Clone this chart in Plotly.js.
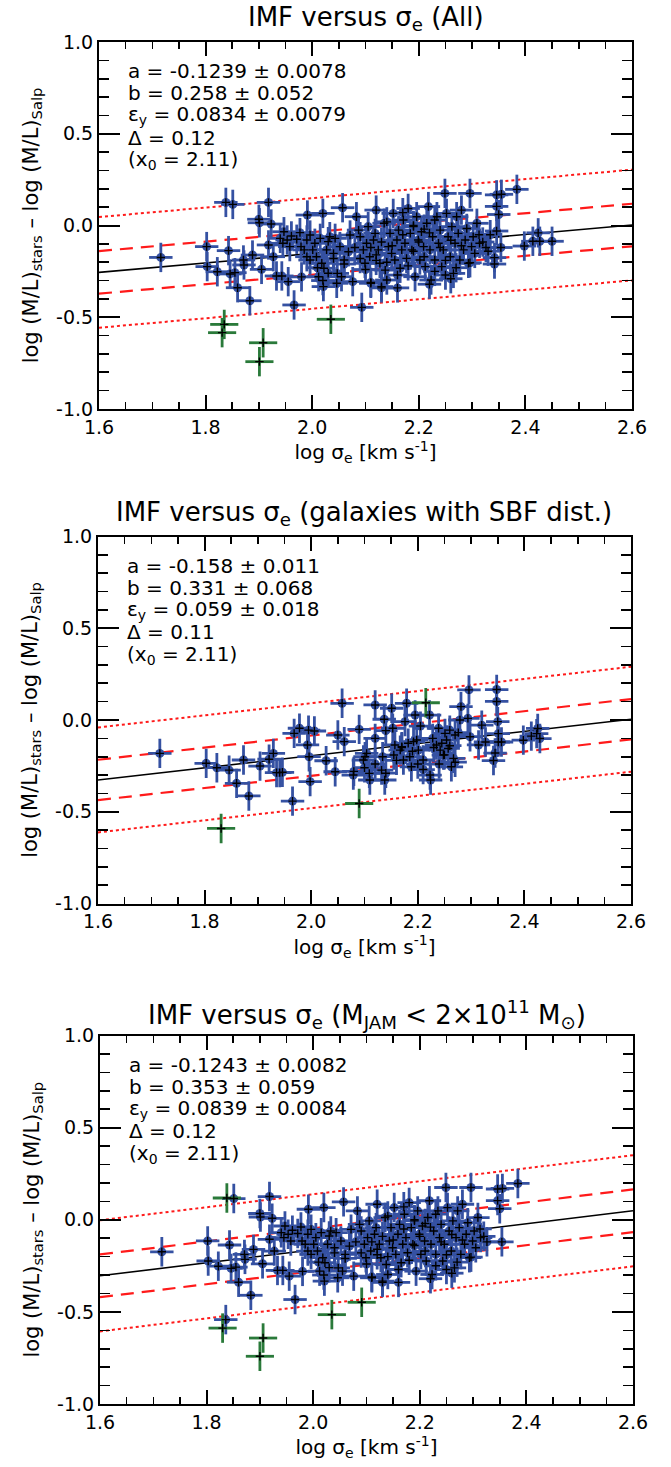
<!DOCTYPE html>
<html><head><meta charset="utf-8">
<script src="https://cdn.plot.ly/plotly-3.0.1.min.js"></script>
<style>html,body{margin:0;padding:0;background:#fff}</style>
</head><body><div id="chart" style="width:671px;height:1467px"></div>
<script>
// ---------- data ----------
// Panel 1 (All): blue points used in fit
const p1x = [1.716,1.802,1.803,1.822,1.838,1.851,1.843,1.846,1.855,1.860,
1.871,1.872,1.883,1.888,1.900,1.901,1.905,1.918,1.923,1.918,
1.927,1.933,1.943,1.947,1.955,1.958,1.966,1.977,1.991,1.996,
2.012,2.020,2.021,2.033,2.046,2.057,2.093,
1.940,1.945,1.953,1.961,1.971,1.979,1.985,1.990,1.996,2.001,
2.005,2.008,2.015,2.018,2.022,2.027,2.030,2.040,2.043,2.047,
2.052,2.055,2.060,2.068,2.071,2.076,2.083,2.087,2.090,2.096,
2.099,2.102,2.105,2.108,2.110,2.115,2.118,2.120,2.124,2.127,
2.130,2.135,2.137,2.140,2.143,2.146,2.149,2.152,2.155,2.159,
2.162,2.165,2.168,2.171,2.174,2.177,2.180,2.184,2.187,2.190,
2.193,2.196,2.199,2.202,2.205,2.209,2.212,2.215,2.218,2.221,
2.223,2.226,2.230,2.234,2.237,2.240,2.243,2.246,2.249,2.252,
2.255,2.259,2.262,2.265,2.268,2.271,2.274,2.277,2.280,2.284,
2.287,2.290,2.293,2.296,2.299,2.302,2.305,2.309,2.314,
2.11,2.12,2.13,2.14,2.15,2.16,2.17,2.18,2.19,2.20,
2.21,2.22,2.23,2.24,2.25,2.26,2.27,2.28,2.25,2.26,
2.22,2.19,2.17,2.14,2.12,2.10,2.09,2.08,2.06,2.04,
2.03,2.02,2.01,1.99,1.98,2.16,2.13,2.11,2.21,2.23,
2.346,2.355,2.384,2.346,2.350,2.346,2.334,2.354,2.342,2.342,
2.398,2.414,2.424,2.427,2.450,2.326,2.313,2.296,2.320,2.330];
const p1y = [-0.174,-0.115,-0.224,-0.252,0.126,0.115,-0.137,-0.264,-0.257,-0.339,
-0.188,-0.215,-0.410,-0.161,0.034,0.015,-0.239,0.126,0.008,-0.106,
-0.170,-0.275,-0.275,-0.034,-0.306,-0.115,-0.433,-0.039,0.057,-0.188,
-0.279,0.066,-0.333,-0.061,-0.315,0.097,-0.446,
-0.070,-0.097,-0.079,-0.057,-0.075,-0.115,-0.133,-0.079,-0.052,-0.133,
-0.097,-0.170,-0.070,-0.206,-0.233,-0.133,-0.088,-0.152,-0.070,-0.261,
-0.115,-0.279,-0.188,-0.143,-0.052,-0.306,0.048,-0.025,-0.061,-0.133,
-0.206,-0.097,-0.006,-0.170,-0.315,-0.079,-0.043,0.084,-0.133,-0.206,
-0.333,0.012,-0.243,-0.297,-0.115,-0.043,-0.152,0.066,-0.188,-0.079,
-0.025,-0.233,-0.133,0.030,-0.097,-0.179,0.093,-0.043,-0.133,-0.006,
-0.279,0.048,-0.079,-0.188,-0.034,-0.115,-0.224,0.012,0.103,-0.133,
-0.297,-0.061,-0.188,0.048,-0.097,-0.025,-0.224,-0.133,0.175,0.066,
-0.061,-0.170,-0.006,-0.261,-0.097,0.048,-0.043,-0.188,0.084,-0.133,
-0.079,-0.016,-0.206,0.175,-0.115,-0.061,-0.152,0.012,-0.097,
-0.12,-0.16,-0.09,-0.20,-0.11,-0.27,-0.05,-0.22,-0.14,-0.09,
-0.17,-0.04,-0.25,-0.12,-0.19,-0.08,-0.23,-0.11,-0.27,-0.29,
-0.32,0.00,0.07,0.02,-0.19,-0.24,-0.18,-0.12,-0.21,-0.18,
-0.26,-0.30,-0.23,-0.17,-0.28,-0.34,-0.34,-0.31,-0.02,0.03,
0.167,0.170,0.197,0.104,0.060,-0.030,-0.050,-0.120,-0.175,-0.210,
-0.112,-0.086,-0.040,-0.086,-0.086,-0.120,-0.050,-0.203,-0.090,-0.140];
// Panel 1 outliers (green)
const g1x = [1.835,1.831,1.908,1.901,2.035];
const g1y = [-0.539,-0.584,-0.639,-0.742,-0.511];

// Panel 2 (galaxies with SBF distances)
const p2x = [1.716,1.803,1.823,1.846,1.860,1.873,1.883,1.904,1.921,1.929,
1.935,1.941,1.946,1.965,1.968,1.978,1.993,1.995,1.996,1.998,
2.006,2.028,2.045,2.050,2.058,2.062,2.079,2.090,2.098,2.101,
2.104,2.109,2.110,2.120,2.120,2.132,2.134,2.137,2.138,2.140,
2.151,2.153,2.155,2.157,2.167,2.170,2.173,2.176,2.179,2.182,
2.185,2.188,2.192,2.195,2.198,2.201,2.205,2.210,2.222,2.223,
2.224,2.228,2.235,2.239,2.242,2.245,2.248,2.251,2.254,2.257,
2.260,2.263,2.267,2.270,2.276,2.279,2.281,2.294,2.296,2.298,
2.314,2.320,2.327,2.348,2.348,2.350,2.351,2.351,2.357,2.345,
2.342,2.398,2.413,2.423,2.425,2.429,
2.16,2.19,2.21,2.24,2.25,2.26,2.27,2.12,2.14,2.08,2.10,2.23,2.20,2.17];
const p2y = [-0.182,-0.236,-0.260,-0.273,-0.345,-0.218,-0.414,-0.251,-0.214,-0.182,
-0.287,-0.287,-0.285,-0.442,-0.073,-0.045,-0.136,-0.055,-0.200,-0.336,
-0.060,-0.222,-0.282,-0.082,0.091,-0.118,-0.300,-0.051,-0.218,-0.200,
-0.182,-0.291,-0.327,0.082,-0.100,-0.273,-0.200,0.004,-0.327,-0.058,
0.064,-0.045,-0.191,-0.136,-0.164,-0.145,-0.218,-0.009,0.091,-0.127,
-0.200,-0.255,-0.118,0.027,-0.109,-0.164,-0.033,-0.218,0.027,-0.300,
-0.327,-0.100,-0.136,-0.045,-0.164,-0.127,-0.191,-0.073,-0.109,-0.155,
-0.055,-0.255,-0.209,-0.082,-0.069,0.000,0.073,0.009,0.164,-0.091,
-0.136,-0.028,-0.120,0.166,0.101,-0.009,-0.074,-0.120,-0.120,-0.180,
-0.221,-0.110,-0.088,-0.074,-0.046,-0.101,
-0.22,-0.17,-0.27,-0.24,-0.19,-0.14,-0.23,-0.24,-0.29,-0.28,-0.26,-0.15,-0.24,-0.15];
const g2x = [1.831,2.090,2.215];
const g2y = [-0.591,-0.455,0.094];

// Panel 3 (M_JAM < 2e11 Msun)
const p3x = [1.716,1.802,1.803,1.822,1.851,1.843,1.846,1.855,1.860,1.871,
1.872,1.883,1.888,1.900,1.901,1.905,1.918,1.923,1.918,1.927,
1.933,1.943,1.947,1.955,1.958,1.966,1.977,1.991,1.996,2.012,
2.020,2.021,2.033,2.046,2.057,1.836,
1.940,1.945,1.953,1.961,1.971,1.979,1.985,1.990,1.996,2.001,
2.005,2.008,2.015,2.018,2.022,2.027,2.030,2.040,2.043,2.047,
2.052,2.055,2.060,2.068,2.071,2.076,2.083,2.087,2.090,2.096,
2.099,2.102,2.105,2.108,2.110,2.115,2.118,2.120,2.124,2.127,
2.130,2.135,2.137,2.140,2.143,2.146,2.149,2.152,2.155,2.159,
2.162,2.165,2.168,2.171,2.174,2.177,2.180,2.184,2.187,2.190,
2.193,2.196,2.199,2.202,2.205,2.209,2.212,2.215,2.218,2.221,
2.223,2.226,2.230,2.234,2.237,2.240,2.243,2.246,2.249,2.252,
2.255,2.259,2.262,2.265,2.268,2.271,2.274,2.277,2.280,2.284,
2.287,2.290,2.293,2.296,2.299,2.302,2.305,2.309,2.314,
2.11,2.12,2.13,2.14,2.15,2.16,2.17,2.18,2.19,2.20,
2.21,2.22,2.23,2.24,2.25,2.26,2.27,2.28,2.25,2.26,
2.22,2.19,2.17,2.14,2.12,2.10,2.09,2.08,2.06,2.04,
2.03,2.02,2.01,1.99,1.98,2.16,2.13,2.11,2.21,2.23,
2.346,2.355,2.384,2.346,2.350,2.354,2.326,2.313,2.296,2.320];
const p3y = [-0.174,-0.115,-0.224,-0.252,0.115,-0.137,-0.264,-0.257,-0.339,-0.188,
-0.215,-0.410,-0.161,0.034,0.015,-0.239,0.126,0.008,-0.106,-0.170,
-0.275,-0.275,-0.034,-0.306,-0.115,-0.433,-0.039,0.057,-0.188,-0.279,
0.066,-0.333,-0.061,-0.315,0.097,-0.542,
-0.070,-0.097,-0.079,-0.057,-0.075,-0.115,-0.133,-0.079,-0.052,-0.133,
-0.097,-0.170,-0.070,-0.206,-0.233,-0.133,-0.088,-0.152,-0.070,-0.261,
-0.115,-0.279,-0.188,-0.143,-0.052,-0.306,0.048,-0.025,-0.061,-0.133,
-0.206,-0.097,-0.006,-0.170,-0.315,-0.079,-0.043,0.084,-0.133,-0.206,
-0.333,0.012,-0.243,-0.297,-0.115,-0.043,-0.152,0.066,-0.188,-0.079,
-0.025,-0.233,-0.133,0.030,-0.097,-0.179,0.093,-0.043,-0.133,-0.006,
-0.279,0.048,-0.079,-0.188,-0.034,-0.115,-0.224,0.012,0.103,-0.133,
-0.297,-0.061,-0.188,0.048,-0.097,-0.025,-0.224,-0.133,0.175,0.066,
-0.061,-0.170,-0.006,-0.261,-0.097,0.048,-0.043,-0.188,0.084,-0.133,
-0.079,-0.016,-0.206,0.175,-0.115,-0.061,-0.152,0.012,-0.097,
-0.12,-0.16,-0.09,-0.20,-0.11,-0.27,-0.05,-0.22,-0.14,-0.09,
-0.17,-0.04,-0.25,-0.12,-0.19,-0.08,-0.23,-0.11,-0.27,-0.29,
-0.32,0.00,0.07,0.02,-0.19,-0.24,-0.18,-0.12,-0.21,-0.18,
-0.26,-0.30,-0.23,-0.17,-0.28,-0.34,-0.34,-0.31,-0.02,0.03,
0.167,0.170,0.197,0.104,0.060,-0.120,-0.120,-0.050,-0.203,-0.090];
const g3x = [1.838,1.830,1.906,1.900,2.035,2.091];
const g3y = [0.118,-0.588,-0.642,-0.741,-0.515,-0.448];

// typical error bars (dex)
const errX = 0.022;
const errY = 0.08;

// fit parameters (printed) and rms used for the band lines
const fitA = [-0.1239, -0.158, -0.1243];
const fitB = [0.258, 0.331, 0.353];
const fitX0 = [2.11, 2.11, 2.11];
const bandRms = [0.116, 0.110, 0.116];
const clipFactor = 2.6;

const titles = [
  "IMF versus σ<sub>e</sub> (All)",
  "IMF versus σ<sub>e</sub> (galaxies with SBF dist.)",
  "IMF versus σ<sub>e</sub> (M<sub>JAM</sub> &lt; 2×10<sup>11</sup> M<sub>⊙</sub>)"
];
const fitText = [
  ["a = -0.1239 ± 0.0078","b = 0.258 ± 0.052","ε<sub>y</sub> = 0.0834 ± 0.0079","Δ = 0.12","(x<sub>0</sub> = 2.11)"],
  ["a = -0.158 ± 0.011","b = 0.331 ± 0.068","ε<sub>y</sub> = 0.059 ± 0.018","Δ = 0.11","(x<sub>0</sub> = 2.11)"],
  ["a = -0.1243 ± 0.0082","b = 0.353 ± 0.059","ε<sub>y</sub> = 0.0839 ± 0.0084","Δ = 0.12","(x<sub>0</sub> = 2.11)"]
];
const xTickVals = [1.6,1.8,2.0,2.2,2.4,2.6];
const xTickText = ["1.6","1.8","2.0","2.2","2.4","2.6"];
const yTickVals = [-1.0,-0.5,0.0,0.5,1.0];
const yTickText = ["-1.0","-0.5","0.0","0.5","1.0"];
const xTitle = "log σ<sub>e</sub> [km s<sup>-1</sup>]";
const yTitle = "log (M/L)<sub>stars</sub> – log (M/L)<sub>Salp</sub>";

// ---------- layout geometry (pixels) ----------
const W = 671, H = 1467;
const boxes = [
  {l:99, r:632, t:42, b:409, ty:19},
  {l:98, r:631, t:536.5, b:903.5, ty:513},
  {l:100, r:633, t:1035.5, b:1404, ty:1014}
];
const BLUE = '#3551a2', GREEN = '#2a7a3a', RED = '#ff1a1a';
const FONT = 'DejaVu Sans, Liberation Sans, sans-serif';

const blueX = [p1x,p2x,p3x], blueY = [p1y,p2y,p3y];
const grnX = [g1x,g2x,g3x], grnY = [g1y,g2y,g3y];

const traces = [];
const layout = {
  width: W, height: H, margin:{l:0,r:0,t:0,b:0},
  paper_bgcolor:'#fff', plot_bgcolor:'#fff', showlegend:false,
  font:{family:FONT, color:'#000', size:19},
  annotations: []
};

for (let k=0;k<3;k++){
  const sx = k===0?'':String(k+1);
  const xa = 'x'+sx, ya = 'y'+sx;
  const bx = boxes[k];
  const xlim = [1.6, 2.6];
  const yc = xlim.map(x => fitA[k] + fitB[k]*(x - fitX0[k]));
  const lineSets = [
    {off: clipFactor*bandRms[k], dash:'dot', color:RED, w:2},
    {off: -clipFactor*bandRms[k], dash:'dot', color:RED, w:2},
    {off: bandRms[k], dash:'13px,8px', color:RED, w:2.2},
    {off: -bandRms[k], dash:'13px,8px', color:RED, w:2.2},
    {off: 0, dash:'solid', color:'#000', w:1.6}
  ];
  lineSets.forEach(s => traces.push({
    x: xlim, y: yc.map(v=>v+s.off), xaxis:xa, yaxis:ya, mode:'lines',
    line:{color:s.color, width:s.w, dash:s.dash}, hoverinfo:'skip'
  }));
  // blue points with error bars
  traces.push({
    x: blueX[k], y: blueY[k], xaxis:xa, yaxis:ya, mode:'markers', type:'scatter',
    marker:{symbol:'circle', size:9, color:BLUE},
    error_x:{type:'constant', value:errX, color:BLUE, thickness:2.8, width:0},
    error_y:{type:'constant', value:errY, color:BLUE, thickness:2.8, width:0}
  });
  // green outliers
  traces.push({
    x: grnX[k], y: grnY[k], xaxis:xa, yaxis:ya, mode:'markers', type:'scatter',
    marker:{symbol:'circle', size:3, color:GREEN},
    error_x:{type:'constant', value:errX*1.2, color:GREEN, thickness:2.8, width:0},
    error_y:{type:'constant', value:errY, color:GREEN, thickness:2.8, width:0}
  });
  // black crosses at data positions
  traces.push({
    x: blueX[k].concat(grnX[k]), y: blueY[k].concat(grnY[k]), xaxis:xa, yaxis:ya,
    mode:'markers', type:'scatter',
    marker:{symbol:'cross-thin', size:6, color:'#000', line:{color:'#000', width:1.4}}
  });

  const common = {showgrid:false, zeroline:false, showline:true, linecolor:'#000', linewidth:2,
    mirror:'allticks', ticks:'inside', tickcolor:'#000', tickwidth:2,
    tickfont:{family:FONT, size:19, color:'#000'}, tickmode:'array', fixedrange:true};
  layout['xaxis'+sx] = Object.assign({}, common, {
    domain:[bx.l/W, bx.r/W], anchor:ya, range:[1.6,2.6],
    tickvals:xTickVals, ticktext:xTickText, ticklen:14,
    minor:{dtick:0.05, tick0:1.6, ticks:'inside', ticklen:7, tickwidth:1.6, tickcolor:'#000', showgrid:false},
    title:{text:xTitle, font:{family:FONT, size:20, color:'#000'}, standoff:2}
  });
  layout['yaxis'+sx] = Object.assign({}, common, {
    domain:[1-bx.b/H, 1-bx.t/H], anchor:xa, range:[-1,1],
    tickvals:yTickVals, ticktext:yTickText, ticklen:21,
    minor:{dtick:0.1, tick0:-1, ticks:'inside', ticklen:10, tickwidth:1.6, tickcolor:'#000', showgrid:false},
    title:{text:yTitle, font:{family:FONT, size:21, color:'#000'}, standoff:12}
  });
  // title
  layout.annotations.push({
    text:titles[k], xref:'paper', yref:'paper', x:((bx.l+bx.r)/2)/W, y:1-bx.ty/H,
    xanchor:'center', yanchor:'middle', showarrow:false, font:{family:FONT, size:26, color:'#000'}
  });
  // fit text lines
  const offs = [29, 51, 73, 95.5, 118];
  fitText[k].forEach((t,i) => layout.annotations.push({
    text:t, xref:xa+' domain', yref:ya+' domain', x:27/533, y:1-offs[i]/(bx.b-bx.t),
    xanchor:'left', yanchor:'middle', showarrow:false, font:{family:FONT, size:20, color:'#000'}
  }));
}

Plotly.newPlot('chart', traces, layout, {displayModeBar:false, staticPlot:true});
</script></body></html>
